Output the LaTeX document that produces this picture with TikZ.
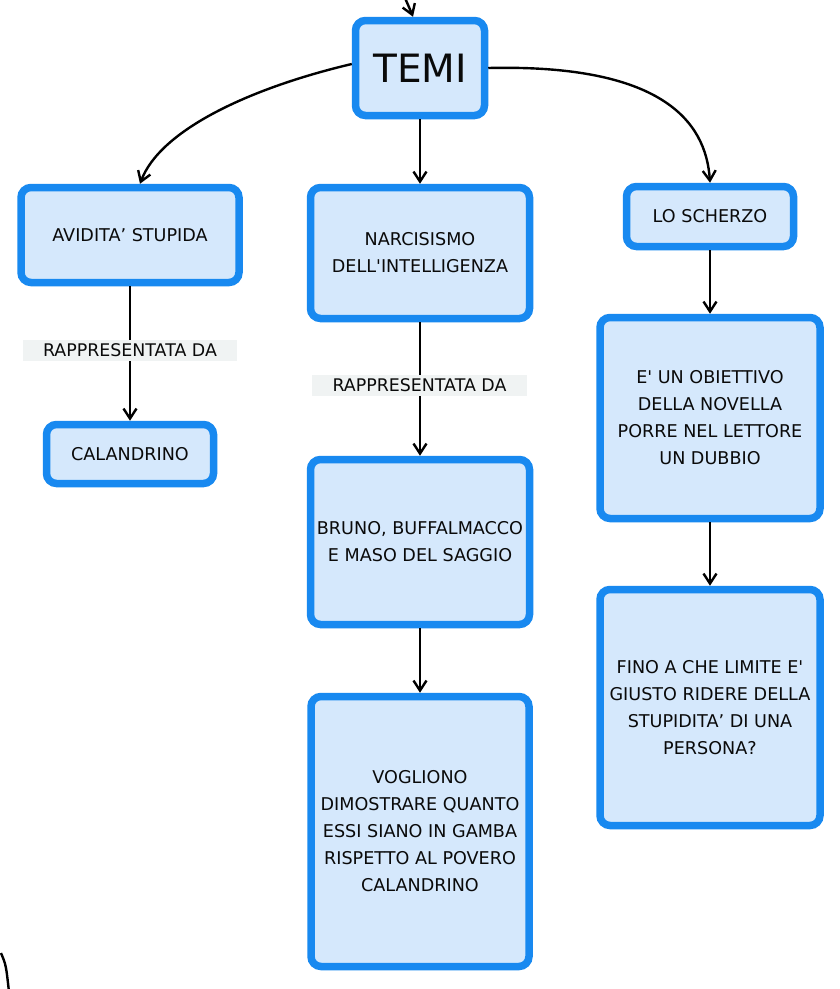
\documentclass[tikz,border=0pt]{standalone}
\usepackage{fontspec}
\setmainfont{DejaVu Sans}
\usetikzlibrary{arrows.meta}
\definecolor{bordc}{RGB}{24,137,240}
\definecolor{fillc}{RGB}{213,232,252}
\definecolor{labc}{RGB}{240,243,243}
\definecolor{txtc}{RGB}{10,10,10}
\begin{document}
\begin{tikzpicture}[x=1pt,y=-1pt,
  box/.style={draw=bordc,fill=fillc,line width=7.5pt,rounded corners=10pt,
    align=center,inner sep=0pt,text=txtc,
    font=\fontsize{17.6}{27}\selectfont},
  lab/.style={fill=labc,inner sep=0pt,text=txtc,
    font=\fontsize{17.4}{27}\selectfont},
  arr/.style={line width=2.4pt,-{Straight Barb[length=10pt,width=13pt]}},
  plain/.style={line width=2.4pt}]
\useasboundingbox (0,0) rectangle (840,989);
\fill[white] (0,0) rectangle (840,989);

\node[box,minimum width=129,minimum height=95,font=\fontsize{39}{40}\selectfont] (temi) at (420,68) {TEMI};
\node[box,minimum width=218,minimum height=95] (avid) at (130,235) {AVIDITA’ STUPIDA};
\node[box,minimum width=167,minimum height=59] (cal) at (130,454) {CALANDRINO};
\node[box,minimum width=219,minimum height=131] (narc) at (420,253) {NARCISISMO\\DELL\textquotesingle INTELLIGENZA};
\node[box,minimum width=219,minimum height=165] (bruno) at (420,542) {BRUNO, BUFFALMACCO\\E MASO DEL SAGGIO};
\node[box,minimum width=218,minimum height=270] (vogl) at (420,831.5) {VOGLIONO\\DIMOSTRARE QUANTO\\ESSI SIANO IN GAMBA\\RISPETTO AL POVERO\\CALANDRINO};
\node[box,minimum width=167,minimum height=60] (scherzo) at (710,216.5) {LO SCHERZO};
\node[box,minimum width=220,minimum height=201] (obiet) at (710,418) {E\textquotesingle{} UN OBIETTIVO\\DELLA NOVELLA\\PORRE NEL LETTORE\\UN DUBBIO};
\node[box,minimum width=220,minimum height=236] (fino) at (710,707.5) {FINO A CHE LIMITE E\textquotesingle\\GIUSTO RIDERE DELLA\\STUPIDITA’ DI UNA\\PERSONA?};

% connectors
\coordinate (topin) at (405,-2);
\draw[arr] (topin) .. controls (409,6) .. ([xshift=-7pt]temi.north);
\draw[arr] ([yshift=4pt]temi.west) .. controls (250,88) and (160,130) .. ([xshift=10pt]avid.north);
\draw[arr] (temi.east) .. controls (660,64) and (706,120) .. (scherzo.north);
\draw[arr] (temi.south) -- (narc.north);

\draw[arr] (avid.south) -- (cal.north);
\node[lab,minimum width=214,minimum height=21] (lab1) at (130,350.5) {RAPPRESENTATA DA};

\draw[arr] (narc.south) -- (bruno.north);
\node[lab,minimum width=215,minimum height=21] (lab2) at (419.5,385.5) {RAPPRESENTATA DA};

\draw[arr] (bruno.south) -- (vogl.north);
\draw[arr] (scherzo.south) -- (obiet.north);
\draw[arr] (obiet.south) -- (fino.north);

% partial curve at bottom left
\coordinate (cv1) at (1,953);
\coordinate (cv2) at (9,992);
\draw[plain] (cv1) .. controls (6,965) .. (cv2);
\end{tikzpicture}
\end{document}
